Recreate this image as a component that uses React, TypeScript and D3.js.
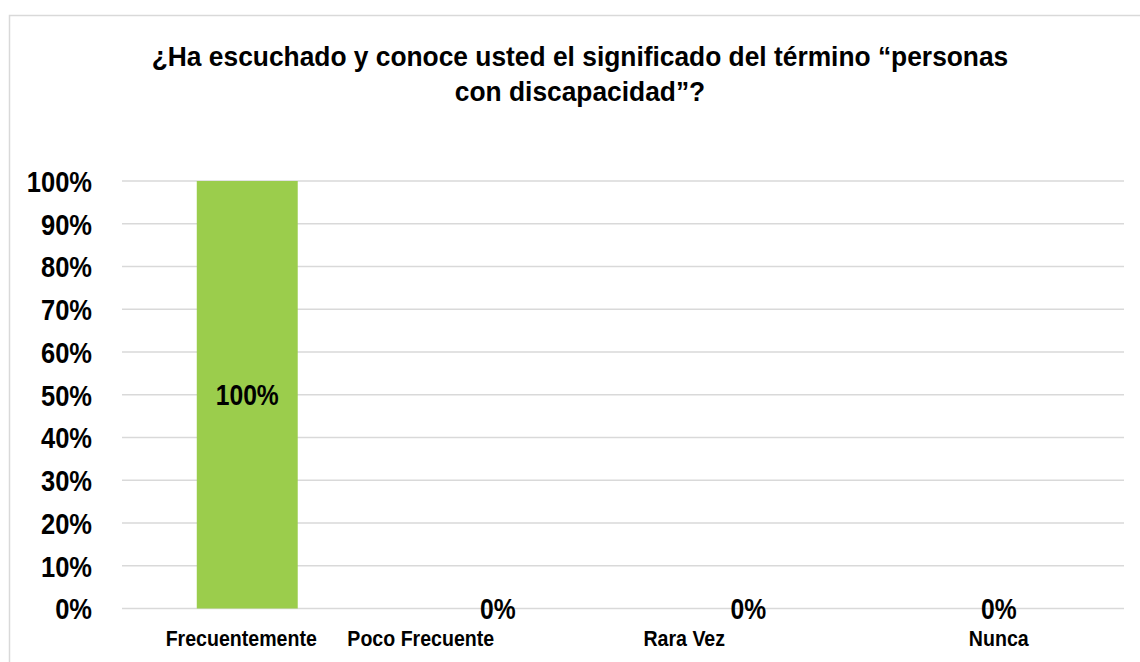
import React from "react";
import * as d3 from "d3";

const categories = ["Frecuentemente", "Poco Frecuente", "Rara Vez", "Nunca"];
const values = [1, 0, 0, 0];
const yTicks = [0, 0.1, 0.2, 0.3, 0.4, 0.5, 0.6, 0.7, 0.8, 0.9, 1];
const titleLines = [
  "¿Ha escuchado y conoce usted el significado del término “personas",
  "con discapacidad”?",
];

const W = 1140;
const H = 662;
const FONT = "'Liberation Sans', Arial, sans-serif";
const labelShift = [-6, -77, -64, 0];

function NText(props: {
  x: number;
  y: number;
  sx: number;
  size: number;
  anchor: "start" | "middle" | "end";
  dy?: string;
  children: React.ReactNode;
}) {
  return (
    <text
      transform={`translate(${props.x},${props.y}) scale(${props.sx},1)`}
      dy={props.dy}
      textAnchor={props.anchor}
      fontSize={props.size}
      fontWeight="bold"
      fill="#000"
    >
      {props.children}
    </text>
  );
}

export default function App() {
  const x = d3.scaleBand<string>().domain(categories).range([122, 1124]).padding(0);
  const y = d3.scaleLinear().domain([0, 1]).range([608.5, 181]);
  const barW = x.bandwidth() * 0.403;
  const fmt = d3.format(".0%");
  return (
    <svg width={W} height={H} style={{ position: "absolute", left: 0, top: 0 }} fontFamily={FONT}>
      <rect x={0} y={0} width={W} height={H} fill="#fff" />
      <rect x={9.5} y={15.5} width={1200} height={700} fill="none" stroke="#d9d9d9" strokeWidth={1.5} />
      {titleLines.map((t, i) => (
        <NText key={i} x={580} y={66 + i * 35} sx={0.925} size={28.5} anchor="middle">
          {t}
        </NText>
      ))}
      {yTicks.map((t) => (
        <g key={t}>
          <line x1={122} x2={1124} y1={y(t)} y2={y(t)} stroke="#d9d9d9" strokeWidth={1.5} />
          <NText x={92} y={y(t)} dy="0.36em" sx={0.85} size={30} anchor="end">
            {fmt(t)}
          </NText>
        </g>
      ))}
      {categories.map((c, i) => {
        const cx = (x(c) as number) + x.bandwidth() / 2;
        const v = values[i];
        return (
          <g key={c}>
            {v > 0 && (
              <rect x={cx - barW / 2} y={y(v)} width={barW} height={y(0) - y(v)} fill="#9bcd4c" />
            )}
            <NText x={cx} y={(y(v) + y(0)) / 2} dy="0.36em" sx={0.85} size={29} anchor="middle">
              {fmt(v)}
            </NText>
            <NText x={cx + labelShift[i]} y={645.5} sx={0.89} size={22} anchor="middle">
              {c}
            </NText>
          </g>
        );
      })}
    </svg>
  );
}
